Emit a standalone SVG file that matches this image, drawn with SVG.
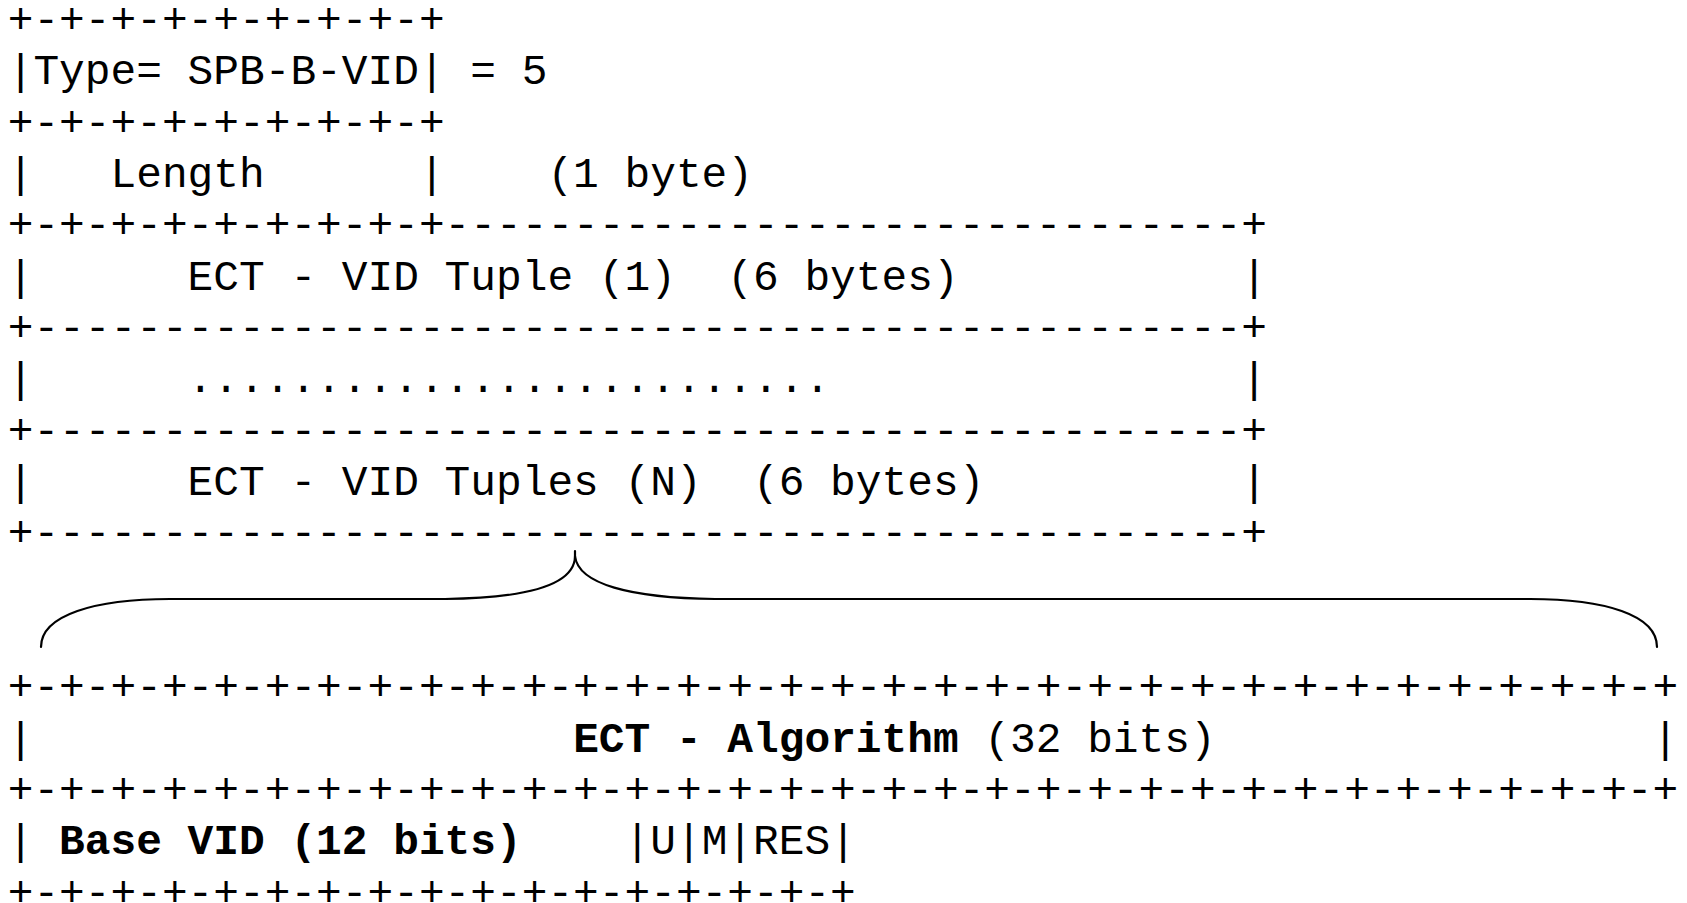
<svg xmlns="http://www.w3.org/2000/svg" width="1687" height="903" viewBox="0 0 1687 903">
  <style>
    text { font-family: "Liberation Mono", "Courier New", monospace; font-size: 42.83px; fill: #000; white-space: pre; }
    .b { font-weight: bold; }
    .brace { fill: none; stroke: #000; stroke-width: 2.2; stroke-linecap: round; stroke-linejoin: round; }
  </style>
  <rect width="1687" height="903" fill="#fff"/>

  <!-- TLV header: type and length octets -->
  <g id="tlv-header">
    <text x="7.7" y="32.8" xml:space="preserve">+-+-+-+-+-+-+-+-+</text>
    <text x="7.7" y="84.15" xml:space="preserve">|Type= SPB-B-VID| = 5</text>
    <text x="7.7" y="135.5" xml:space="preserve">+-+-+-+-+-+-+-+-+</text>
    <text x="7.7" y="186.85" xml:space="preserve">|   Length      |    (1 byte)</text>
  </g>

  <!-- Repeated ECT-VID tuples -->
  <g id="ect-vid-tuples">
    <text x="7.7" y="238.2" xml:space="preserve">+-+-+-+-+-+-+-+-+-------------------------------+</text>
    <text x="7.7" y="289.55" xml:space="preserve">|      ECT - VID Tuple (1)  (6 bytes)           |</text>
    <text x="7.7" y="340.9" xml:space="preserve">+-----------------------------------------------+</text>
    <text x="7.7" y="392.25" xml:space="preserve">|      .........................                |</text>
    <text x="7.7" y="443.6" xml:space="preserve">+-----------------------------------------------+</text>
    <text x="7.7" y="494.95" xml:space="preserve">|      ECT - VID Tuples (N)  (6 bytes)          |</text>
    <text x="7.7" y="546.3" xml:space="preserve">+-----------------------------------------------+</text>
  </g>

  <!-- Brace expanding one tuple -->
  <g id="connectors">
    <path class="brace" d="M575,551 L575,556 C575,584 530,598 445,599 L170,599 C95,599 41,615 41,647"/>
    <path class="brace" d="M575,556 C578,584 630,598 715,599 L1530,599 C1605,599 1657,615 1657,647"/>
  </g>

  <!-- Tuple layout: algorithm word, base VID and flags -->
  <g id="ect-vid-tuple-detail">
    <text x="7.7" y="700.35" xml:space="preserve">+-+-+-+-+-+-+-+-+-+-+-+-+-+-+-+-+-+-+-+-+-+-+-+-+-+-+-+-+-+-+-+-+</text>
    <text x="7.7" y="751.7" xml:space="preserve">|                     <tspan class="b">ECT - Algorithm</tspan> (32 bits)                 |</text>
    <text x="7.7" y="803.05" xml:space="preserve">+-+-+-+-+-+-+-+-+-+-+-+-+-+-+-+-+-+-+-+-+-+-+-+-+-+-+-+-+-+-+-+-+</text>
    <text x="7.7" y="854.4" xml:space="preserve">| <tspan class="b">Base VID (12 bits)</tspan>    |U|M|RES|</text>
    <text x="7.7" y="905.75" xml:space="preserve">+-+-+-+-+-+-+-+-+-+-+-+-+-+-+-+-+</text>
  </g>
</svg>
